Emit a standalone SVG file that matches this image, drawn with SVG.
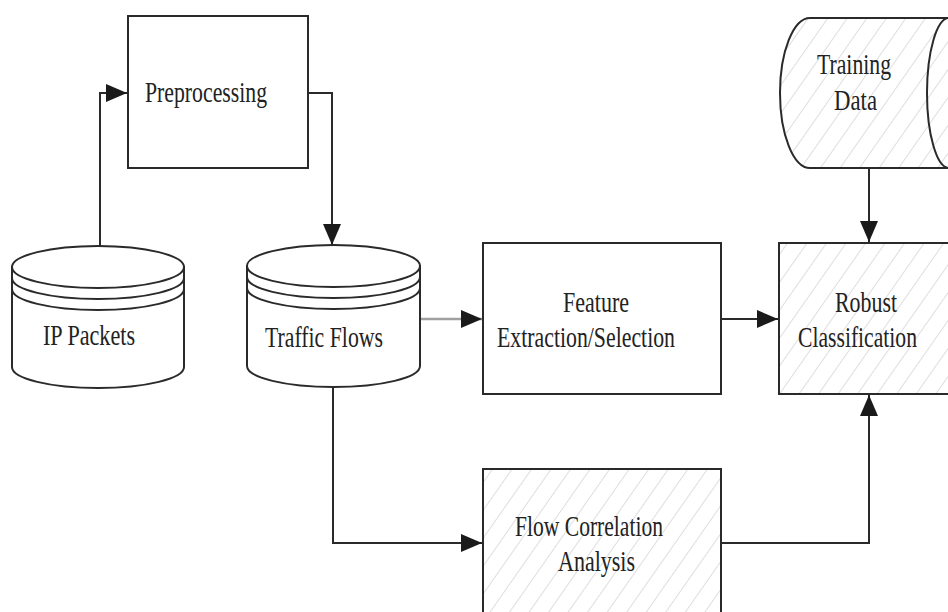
<svg xmlns="http://www.w3.org/2000/svg" width="948" height="612" viewBox="0 0 948 612">
  <style>
    .shape { fill: #ffffff; stroke: #2a2a2a; stroke-width: 2; }
    .hatched { fill: url(#hatch); stroke: #2a2a2a; stroke-width: 2; }
    .line { fill: none; stroke: #2a2a2a; stroke-width: 2; }
    .edge { fill: none; stroke: #2a2a2a; stroke-width: 2; marker-end: url(#arrow); }
    .edge.light { stroke: #a0a0a0; stroke-width: 2.5; }
    text { font-family: 'Liberation Serif', 'Times New Roman', serif; font-size: 29px; fill: #222222; }
  </style>
  <defs>
    <marker id="arrow" markerUnits="userSpaceOnUse" markerWidth="22" markerHeight="20" refX="21" refY="9" orient="auto">
      <path d="M0,0 L21,9 L0,18 Z" fill="#1a1a1a"/>
    </marker>
    <pattern id="hatch" patternUnits="userSpaceOnUse" width="16" height="16" patternTransform="rotate(35)">
      <rect width="16" height="16" fill="#ffffff"/>
      <line x1="0" y1="0" x2="0" y2="16" stroke="#d4d4d4" stroke-width="1.5"/>
    </pattern>
  </defs>

  <rect width="948" height="612" fill="#ffffff"/>

  <!-- connectors -->
  <g id="connectors">
    <path class="edge" d="M100,246 V93 H127"/>
    <path class="edge" d="M308,93 H332 V245"/>
    <path class="edge light" d="M420,319 H482"/>
    <path class="edge" d="M721,319 H778"/>
    <path class="edge" d="M869,168 V242"/>
    <path class="edge" d="M333,388 V543 H482"/>
    <path class="edge" d="M721,543 H869 V395"/>
  </g>

  <!-- packet store -->
  <g id="ip-packets">
    <path class="shape" d="M12,267 V367 A86,21 0 0 0 184,367 V267 Z"/>
    <ellipse class="shape" cx="98" cy="267" rx="86" ry="21"/>
    <path class="line" d="M12,278 A86,21 0 0 0 184,278"/>
    <path class="line" d="M12,289 A86,21 0 0 0 184,289"/>
    <text x="43" y="345" textLength="92" lengthAdjust="spacingAndGlyphs">IP Packets</text>
  </g>

  <g id="preprocessing">
    <rect class="shape" x="128" y="16" width="180" height="152"/>
    <text x="145" y="102" textLength="122" lengthAdjust="spacingAndGlyphs">Preprocessing</text>
  </g>

  <!-- flow store -->
  <g id="traffic-flows">
    <path class="shape" d="M247,266 V366 A86.5,21 0 0 0 420,366 V266 Z"/>
    <ellipse class="shape" cx="333.5" cy="266" rx="86.5" ry="21"/>
    <path class="line" d="M247,277 A86.5,21 0 0 0 420,277"/>
    <path class="line" d="M247,288 A86.5,21 0 0 0 420,288"/>
    <text x="265" y="347" textLength="118" lengthAdjust="spacingAndGlyphs">Traffic Flows</text>
  </g>

  <g id="feature-extraction">
    <rect class="shape" x="483" y="243" width="238" height="151"/>
    <text x="563" y="312" textLength="66" lengthAdjust="spacingAndGlyphs">Feature</text>
    <text x="497" y="347" textLength="178" lengthAdjust="spacingAndGlyphs">Extraction/Selection</text>
  </g>

  <!-- box runs past the right edge of the sheet -->
  <g id="robust-classification">
    <rect class="hatched" x="779" y="243" width="172" height="151"/>
    <text x="835" y="312" textLength="62" lengthAdjust="spacingAndGlyphs">Robust</text>
    <text x="798" y="347" textLength="119" lengthAdjust="spacingAndGlyphs">Classification</text>
  </g>

  <!-- stored data drum lying on its side -->
  <g id="training-data">
    <path class="hatched" d="M810,18 H970 V168 H810 A30,75 0 0 1 810,18 Z"/>
    <path class="line" d="M949,18 A22,75 0 0 0 949,168"/>
    <text x="817" y="74" textLength="74" lengthAdjust="spacingAndGlyphs">Training</text>
    <text x="834" y="110" textLength="43" lengthAdjust="spacingAndGlyphs">Data</text>
  </g>

  <g id="flow-correlation">
    <rect class="hatched" x="483" y="469" width="238" height="160"/>
    <text x="515" y="536" textLength="148" lengthAdjust="spacingAndGlyphs">Flow Correlation</text>
    <text x="558" y="571" textLength="77" lengthAdjust="spacingAndGlyphs">Analysis</text>
  </g>
</svg>
